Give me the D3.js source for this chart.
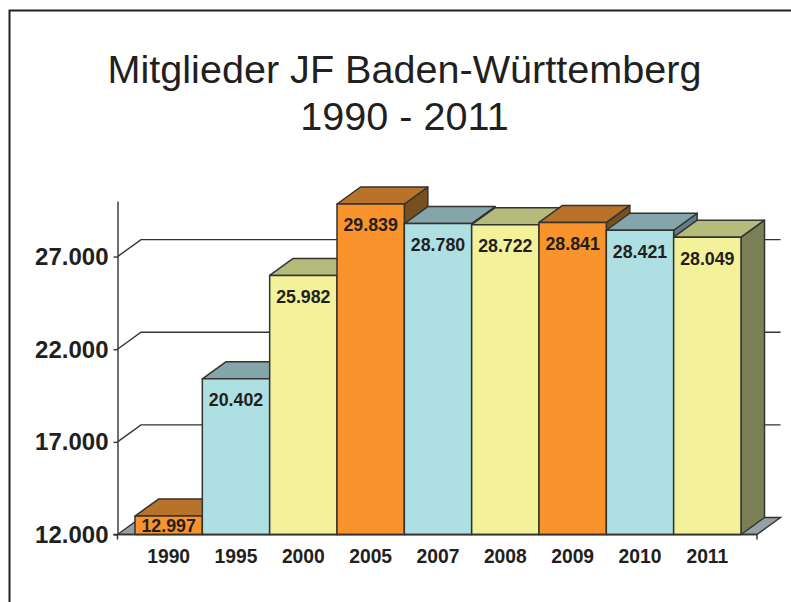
<!DOCTYPE html>
<html>
<head>
<meta charset="utf-8">
<script src="https://cdn.jsdelivr.net/npm/d3@7"></script>
<style>
  html, body { margin: 0; padding: 0; background: #fff; }
  svg { display: block; }
  text { font-family: "Liberation Sans", Arial, sans-serif; fill: #231f20; }
</style>
</head>
<body>
<div id="chart"></div>
<script>
const years = ["1990", "1995", "2000", "2005", "2007", "2008", "2009", "2010", "2011"];
const members = [12997, 20402, 25982, 29839, 28780, 28722, 28841, 28421, 28049];
const yTicks = [12000, 17000, 22000, 27000];
const titleLines = ["Mitglieder JF Baden-Württemberg", "1990 - 2011"];

// front, top and side face of the bars, repeating
const frontColors = ["#f9932b", "#aedfe3", "#f3f199"];
const topColors = ["#b8722a", "#84a5a9", "#b5bc7b"];
const sideColors = ["#78501f", "#647d83", "#7a7f55"];

const width = 791;
const height = 602;
const lineColor = "#333333";

// depth of the fake 3d
const depthX = 23.5;
const depthY = 17;

const svg = d3.select("#chart")
  .append("svg")
  .attr("width", width)
  .attr("height", height);

// page frame, only left and top are in the picture
svg.append("path")
  .attr("d", "M9.5," + height + "V10.5H" + width)
  .attr("fill", "none")
  .attr("stroke", "#231f20")
  .attr("stroke-width", 2);

svg.selectAll(".title")
  .data(titleLines)
  .join("text")
  .attr("class", "title")
  .attr("x", 404.5)
  .attr("y", (d, i) => 83 + i * 47)
  .attr("text-anchor", "middle")
  .attr("font-size", 39.6)
  .text(d => d);

const x = d3.scaleBand().domain(years).range([135, 741]);
const y = d3.scaleLinear().domain([12000, 30000]).range([534.5, 201]);
const base = y(12000);

const germanFormat = d3.formatLocale({
  decimal: ",", thousands: ".", grouping: [3], currency: ["", " €"]
}).format(",d");

const wallLeft = 117.5;
const floorRight = 757;

// gridlines along the side wall and the back wall
svg.append("g")
  .selectAll("path")
  .data(yTicks.slice(1))
  .join("path")
  .attr("d", d => "M" + wallLeft + "," + y(d) + "L" + (wallLeft + depthX) + "," + (y(d) - depthY) + "H" + (floorRight + depthX))
  .attr("fill", "none")
  .attr("stroke", lineColor)
  .attr("stroke-width", 1.4);

// floor
svg.append("path")
  .attr("d", "M" + wallLeft + "," + base + "L" + (wallLeft + depthX) + "," + (base - depthY) + "H" + (floorRight + depthX) + "L" + floorRight + "," + base + "Z")
  .attr("fill", "#98a0a6")
  .attr("stroke", lineColor)
  .attr("stroke-width", 1.4);

// y axis
const yAxis = svg.append("g")
  .attr("transform", "translate(" + wallLeft + ",0)")
  .call(d3.axisLeft(y).tickValues(yTicks).tickFormat(germanFormat).tickSize(4).tickPadding(5).tickSizeOuter(0));
yAxis.selectAll("path, line").attr("stroke", lineColor).attr("stroke-width", 1.4);
yAxis.selectAll("text")
  .attr("font-family", null)
  .attr("font-size", 24)
  .attr("font-weight", "bold")
  .attr("dy", 8);

// bars
const bars = svg.append("g")
  .selectAll("g")
  .data(years)
  .join("g");

const barLeft = d => x(d);
const barRight = d => x(d) + x.bandwidth();
const barTop = (d, i) => y(members[i]);

bars.append("path")
  .attr("d", (d, i) => "M" + barRight(d) + "," + barTop(d, i) + "l" + depthX + "," + (-depthY) + "V" + (base - depthY) + "L" + barRight(d) + "," + base + "Z")
  .attr("fill", (d, i) => sideColors[i % 3]);

bars.append("path")
  .attr("d", (d, i) => "M" + barLeft(d) + "," + barTop(d, i) + "l" + depthX + "," + (-depthY) + "H" + (barRight(d) + depthX) + "L" + barRight(d) + "," + barTop(d, i) + "Z")
  .attr("fill", (d, i) => topColors[i % 3]);

bars.append("rect")
  .attr("x", barLeft)
  .attr("y", barTop)
  .attr("width", x.bandwidth())
  .attr("height", (d, i) => base - barTop(d, i))
  .attr("fill", (d, i) => frontColors[i % 3]);

bars.selectAll("path, rect")
  .attr("stroke", lineColor)
  .attr("stroke-width", 1.5)
  .attr("stroke-linejoin", "round");

// value labels, 27px under the top unless the bar is too short
bars.append("text")
  .attr("x", d => x(d) + x.bandwidth() / 2)
  .attr("y", (d, i) => Math.min(barTop(d, i) + 27.5, base - 3))
  .attr("text-anchor", "middle")
  .attr("font-size", 17.8)
  .attr("font-weight", "bold")
  .text((d, i) => germanFormat(members[i]));

// x axis line with a tick at each end
svg.append("path")
  .attr("d", "M" + (wallLeft - 4) + "," + base + "H" + floorRight + "M" + wallLeft + "," + base + "v5M" + floorRight + "," + base + "v5")
  .attr("fill", "none")
  .attr("stroke", lineColor)
  .attr("stroke-width", 1.4);

svg.append("g")
  .selectAll("text")
  .data(years)
  .join("text")
  .attr("x", d => x(d) + x.bandwidth() / 2)
  .attr("y", 563)
  .attr("text-anchor", "middle")
  .attr("font-size", 19.3)
  .attr("font-weight", "bold")
  .text(d => d);
</script>
</body>
</html>
